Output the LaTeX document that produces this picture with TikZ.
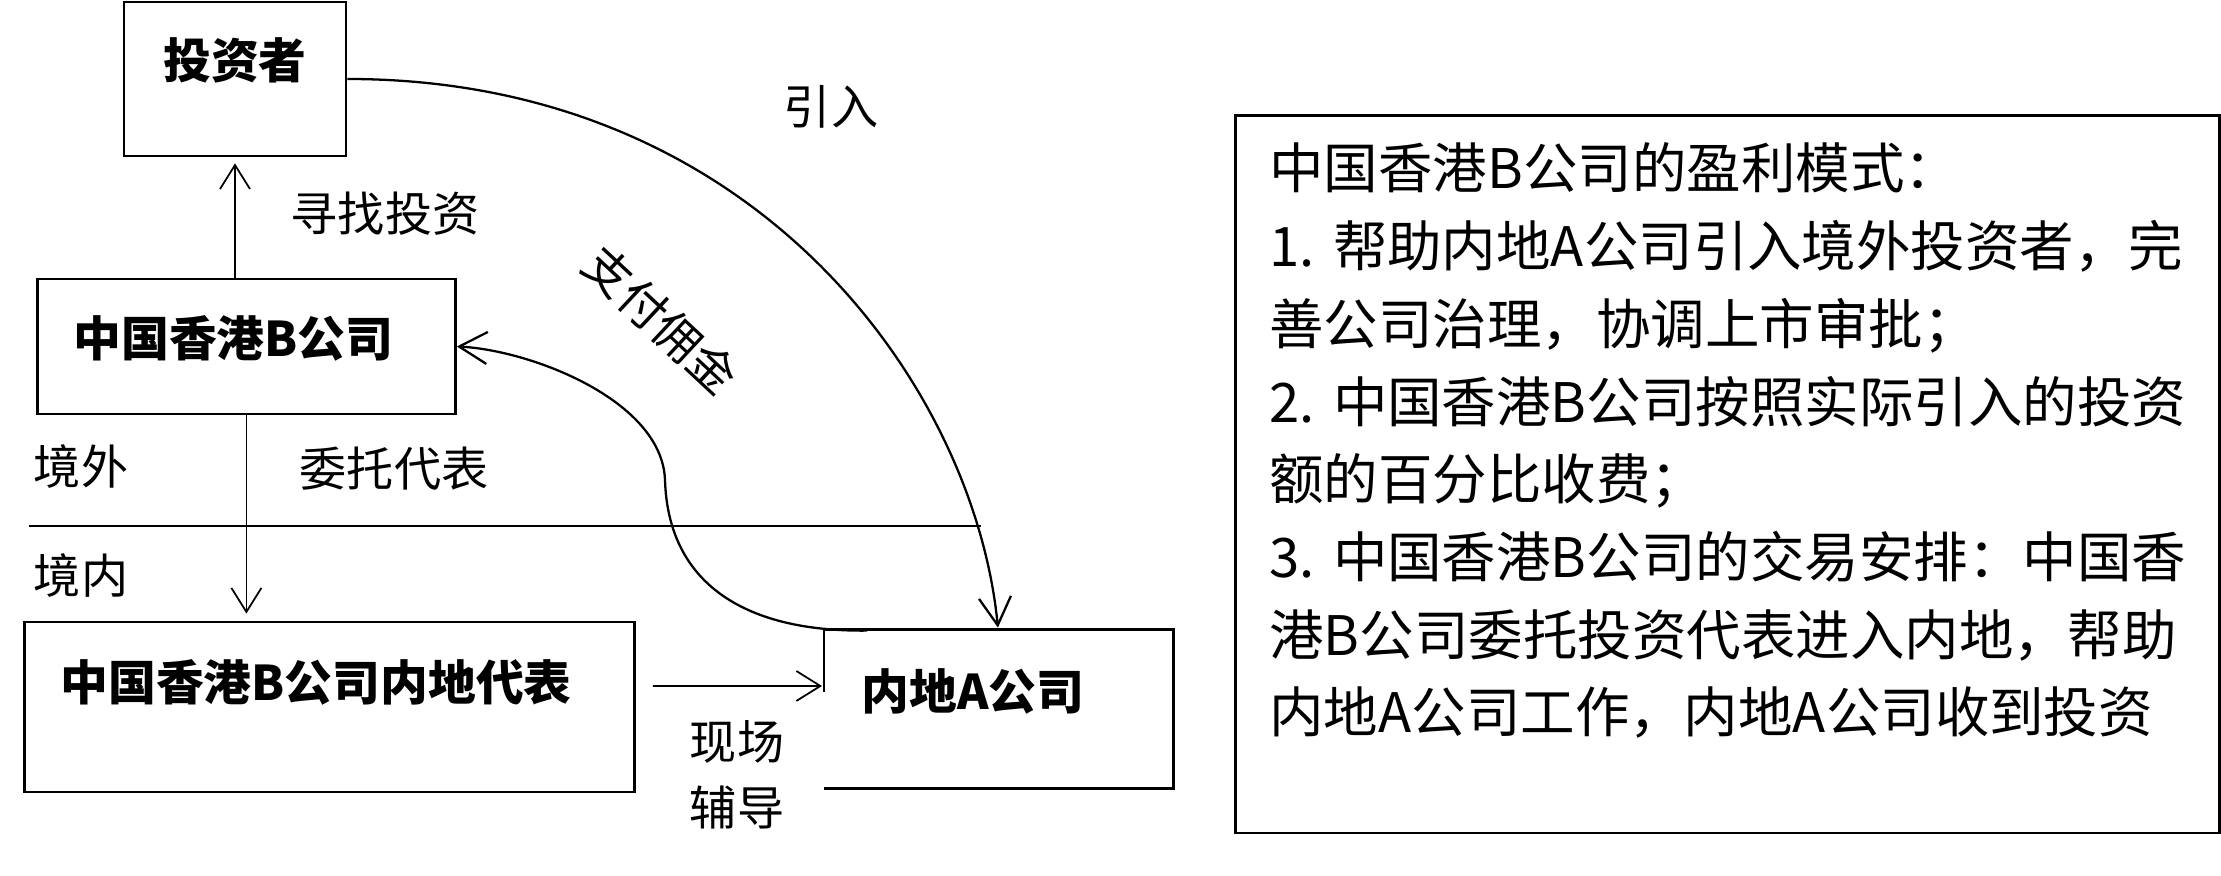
\documentclass[tikz,border=0pt]{standalone}
\usepackage{fontspec}
\setmainfont{Noto Sans CJK SC}
\usepackage{tikz}
\usetikzlibrary{arrows.meta, positioning, calc}
\tikzset{
  blk/.style={draw, line width=0.8pt, inner xsep=0.36cm, inner ysep=0pt, align=left,
              font=\bfseries\fontsize{13.6}{17}\selectfont},
  lbl/.style={inner sep=0pt, align=center, font=\fontsize{13.4}{18.8}\selectfont},
  arr/.style={-{Straight Barb[length=2.4mm,width=3mm]}, line width=0.5pt},
  carr/.style={-{Straight Barb[length=2.8mm,width=3.2mm]}, line width=0.65pt},
  info/.style={draw, line width=0.85pt, inner xsep=0.34cm, inner ysep=0pt, align=left,
               font=\fontsize{15.5}{22.1}\selectfont},
}
\begin{document}
\begin{tikzpicture}
\useasboundingbox (0,0) rectangle (22.21,8.75);
% boxes
\node[blk, align=center, text width=1.50cm, text height=.77cm, text depth=.77cm, anchor=base] (inv) at (2.35,7.96) {投资者};
\node[blk, text width=3.46cm, text height=.78cm, text depth=.57cm, anchor=base west] (hkb) at (0.36,5.18) {中国香港B公司};
\node[blk, text width=5.38cm, text height=.785cm, text depth=.915cm, anchor=base west] (rep) at (0.23,1.745) {中国香港B公司内地代表};
\node[blk, draw=none, text width=2.75cm, text height=.79cm, text depth=.77cm, anchor=base west] (mla) at (8.24,1.65) {内地A公司};
\draw[line width=0.8pt] ([yshift=-.62cm]mla.north west) -- (mla.north west) -- (mla.north east)
  -- (mla.south east) -- (mla.south west);
% profit model
\node[info, text width=9.16cm, text height=.73cm, text depth=6.44cm, anchor=base west] (mode) at (12.34,6.86)
  {中国香港B公司的盈利模式：\\
   1.~帮助内地A公司引入境外投资者，完\\
   善公司治理，协调上市审批；\\
   2.~中国香港B公司按照实际引入的投资\\
   额的百分比收费；\\
   3.~中国香港B公司的交易安排：中国香\\
   港B公司委托投资代表进入内地，帮助\\
   内地A公司工作，内地A公司收到投资};
% border line
\draw[line width=0.7pt] (0.29,3.49) -- (9.81,3.49);
% flows
\draw[arr] (hkb.north -| inv.south) -- ($(inv.south)+(0,-.06)$);
\draw[arr] (hkb.south) -- ($(hkb.south |- rep.north)+(0,.07)$);
\draw[arr] ($(rep.east)+(.17,.21)$) -- ($(mla.west)+(-.02,.23)$);
\draw[carr] (inv.east) .. controls (7.60,7.96) and (9.75,4.84) .. ($(mla.north)+(-.01,.02)$);
\draw[carr] ($(mla.north west)+(.43,-.01)$) .. controls (7.40,2.43) and (6.68,2.95) .. (6.65,3.95)
  .. controls (6.62,4.75) and (5.30,5.25) .. (hkb.east);
% labels
\node[lbl] (seek) at (3.85,6.61) {寻找投资};
\node[lbl] (intro) at (8.31,7.68) {引入};
\node[lbl, rotate=-43] (fee) at (6.61,5.55) {支付佣金};
\node[lbl] (abroad) at (0.81,4.08) {境外};
\node[lbl] (entrust) at (3.94,4.06) {委托代表};
\node[lbl] (domestic) at (0.81,2.99) {境内};
\node[lbl] (guide) at (7.37,1.00) {现场\\辅导};
\end{tikzpicture}
\end{document}
